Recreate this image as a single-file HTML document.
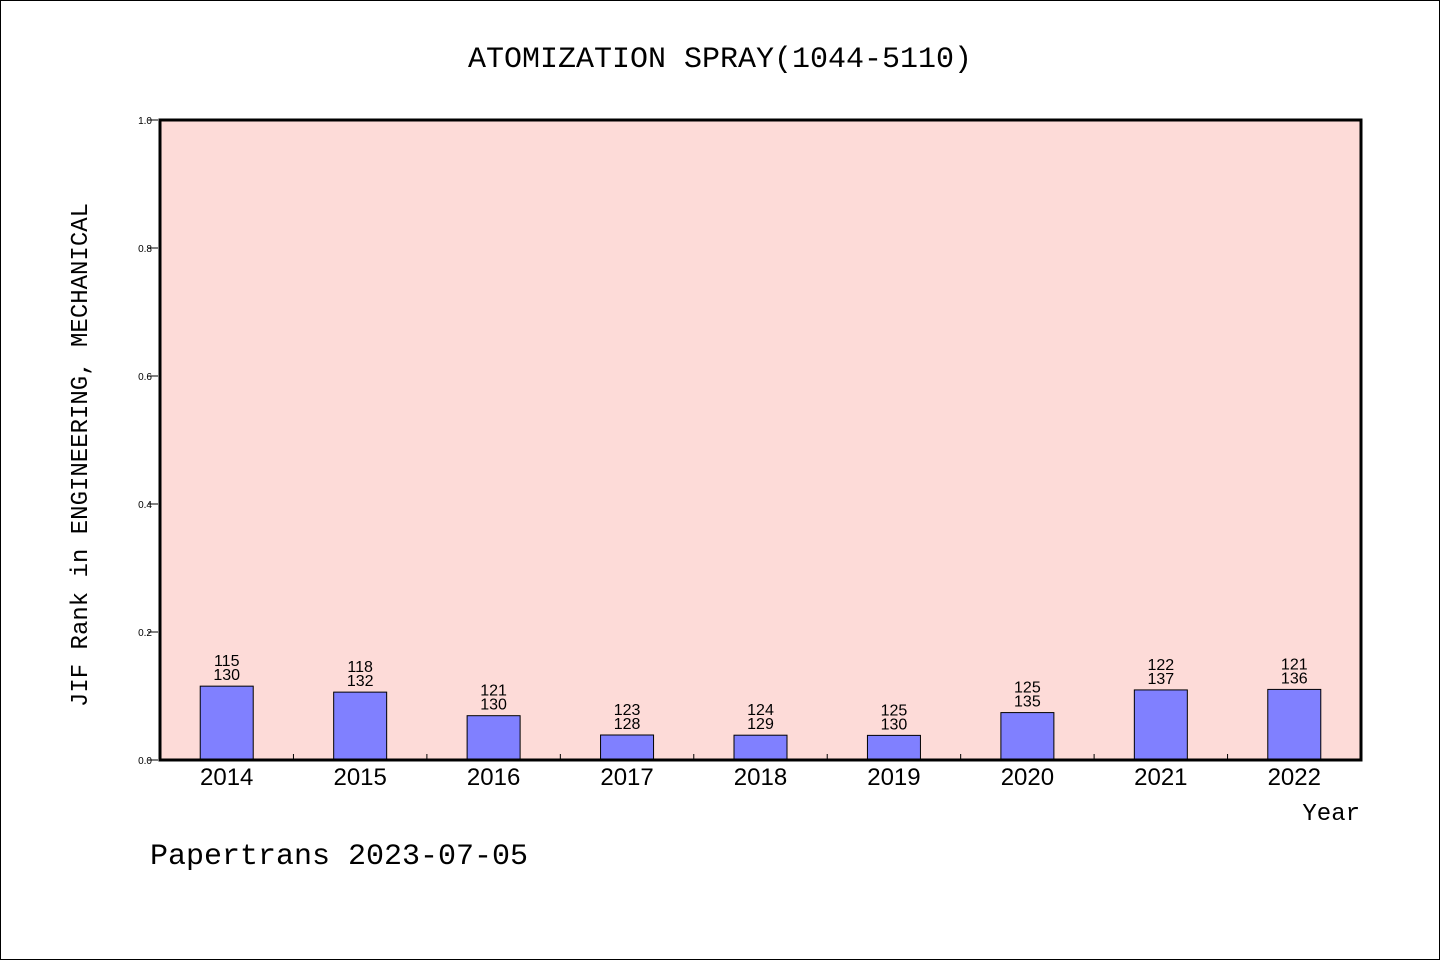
<!DOCTYPE html>
<html><head><meta charset="utf-8"><style>
html,body{margin:0;padding:0;background:#fff;}
svg{display:block;font-family:"Liberation Sans","WenQuanYi Zen Hei",sans-serif;}
</style></head><body>
<svg id="chart" width="1440" height="960">
<rect x="0.5" y="0.5" width="1439" height="959" fill="#fff" stroke="#000"/>
<text x="720" y="67" text-anchor="middle" font-size="30" font-family="Liberation Mono, monospace">ATOMIZATION SPRAY(1044-5110)</text>
<rect x="160" y="120" width="1201" height="640" fill="#fddbd8"/>
<g id="yaxis"></g>
<g id="bars"></g>
<g id="xaxis"></g>
<rect x="160" y="120" width="1201" height="640" fill="none" stroke="#000" stroke-width="3"/>
<text transform="translate(87,455) rotate(-90)" text-anchor="middle" font-size="24" font-family="Liberation Mono, monospace">JIF Rank in ENGINEERING, MECHANICAL</text>
<text x="1360" y="820" text-anchor="end" font-size="24" font-family="Liberation Mono, monospace">Year</text>
<text x="150" y="864" font-size="30" font-family="Liberation Mono, monospace">Papertrans 2023-07-05</text>
</svg>
<script>
const years = ["2014","2015","2016","2017","2018","2019","2020","2021","2022"];
const ranks = [115,118,121,123,124,125,125,122,121];
const totals = [130,132,130,128,129,130,135,137,136];
const yTicks = [0,0.2,0.4,0.6,0.8,1.0];
const NS="http://www.w3.org/2000/svg";
const X0=160,X1=1361,Y0=760,Y1=120;
const band=(X1-X0)/years.length;
const xc=i=>X0+band*(i+0.5);
const ys=v=>Y0-(Y1-Y0)*-v;
function mk(tag,attrs,parent,text){const e=document.createElementNS(NS,tag);for(const k in attrs)e.setAttribute(k,attrs[k]);if(text!==undefined)e.textContent=text;parent.appendChild(e);return e;}
const ya=document.getElementById('yaxis'),bg=document.getElementById('bars'),xa=document.getElementById('xaxis');
yTicks.forEach(t=>{
  const y=ys(t);
  const l=mk('line',{x1:148,x2:158,y1:y,y2:y,stroke:'#000','stroke-width':1},ya);
  
  
  const tx=mk('text',{x:152,y:y+4,'text-anchor':'end','font-size':10},ya,t.toFixed(1));
  
  
});
years.forEach((yr,i)=>{
  const v=1-ranks[i]/totals[i];
  const y=ys(v);
  const r=mk('rect',{x:xc(i)-26.5,y:y,width:53,height:Y0-y,fill:'#8080ff',stroke:'#000','stroke-width':1},bg);
  
  
  const t1=mk('text',{x:xc(i),y:y-20,'text-anchor':'middle','font-size':16},bg,String(ranks[i]));
  
  
  const t2=mk('text',{x:xc(i),y:y-6,'text-anchor':'middle','font-size':16},bg,String(totals[i]));
  
  
  const xl=mk('text',{x:xc(i),y:785,'text-anchor':'middle','font-size':24},xa,yr);
  
  
  if(i>0){
    const tk=mk('line',{x1:X0+band*i,x2:X0+band*i,y1:Y0,y2:Y0-6,stroke:'#000','stroke-width':1},xa);
    
    
  }
});
</script>
</body></html>
